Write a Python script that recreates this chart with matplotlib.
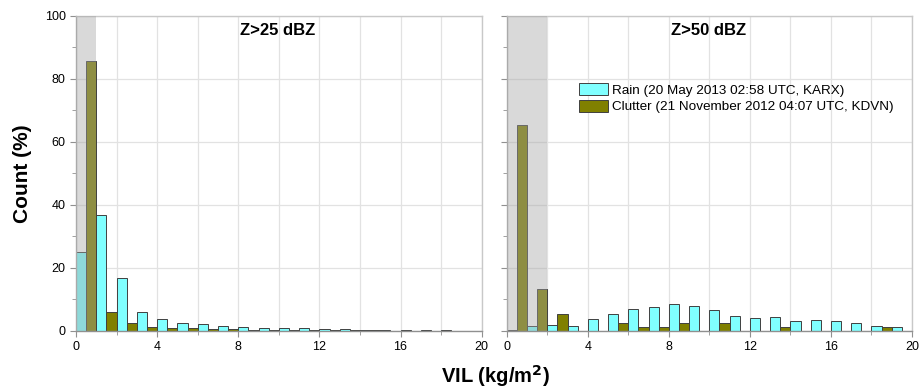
import numpy as np
import matplotlib
matplotlib.use("Agg")
import matplotlib.pyplot as plt
from matplotlib.ticker import MultipleLocator

plt.rcParams['font.family'] = ['Liberation Sans', 'DejaVu Sans']

# bins of VIL (kg/m^2), width 1
bin_left = np.arange(0, 20)

rain_25 = [25.0, 36.7, 16.7, 5.9, 3.7, 2.6, 2.1, 1.6, 1.3, 1.05,
           0.95, 0.8, 0.7, 0.6, 0.4, 0.3, 0.2, 0.15, 0.15, 0.1]
clutter_25 = [85.7, 6.1, 2.6, 1.4, 1.05, 0.85, 0.6, 0.5, 0.4, 0.3,
              0.3, 0.2, 0.2, 0.2, 0.15, 0.0, 0.1, 0.1, 0.1, 0.1]

rain_50 = [0.2, 1.6, 1.8, 1.6, 3.7, 5.5, 7.0, 7.5, 8.5, 7.9,
           6.7, 4.9, 4.2, 4.4, 3.2, 3.4, 3.3, 2.4, 1.7, 1.1]
clutter_50 = [65.3, 13.3, 5.4, 0.0, 0.0, 2.6, 1.3, 1.3, 2.6, 0.0,
              2.6, 0.0, 0.0, 1.3, 0.0, 0.0, 0.0, 0.0, 1.4, 0.0]

titles = ["Z>25 dBZ", "Z>50 dBZ"]
shade_end = [1, 2]
rain_label = "Rain (20 May 2013 02:58 UTC, KARX)"
clutter_label = "Clutter (21 November 2012 04:07 UTC, KDVN)"

rain_color = "#80ffff"
clutter_color = "#808000"
edge_color = "#404040"

fig = plt.figure(figsize=(9.21, 3.88), dpi=100)
ax1 = fig.add_axes([0.0825, 0.147, 0.4405, 0.8126])
ax2 = fig.add_axes([0.5502, 0.147, 0.4400, 0.8126])

for ax, rain, clut, title, se in zip([ax1, ax2], [rain_25, rain_50],
                                     [clutter_25, clutter_50], titles, shade_end):
    ax.bar(bin_left, rain, width=0.5, align='edge', color=rain_color,
           edgecolor=edge_color, linewidth=0.7, zorder=2, label=rain_label)
    ax.bar(bin_left + 0.5, clut, width=0.5, align='edge', color=clutter_color,
           edgecolor=edge_color, linewidth=0.7, zorder=2, label=clutter_label)
    ax.axvspan(0, se, color=(0.64, 0.64, 0.64), alpha=0.41, lw=0, zorder=3)
    ax.set_xlim(0, 20)
    ax.set_ylim(0, 100)
    ax.xaxis.set_major_locator(MultipleLocator(4))
    ax.xaxis.set_minor_locator(MultipleLocator(2))
    ax.yaxis.set_major_locator(MultipleLocator(20))
    ax.yaxis.set_minor_locator(MultipleLocator(10))
    ax.grid(True, which='major', axis='y', color='#e2e2e2', lw=0.9, zorder=0)
    ax.grid(True, which='minor', axis='x', color='#e2e2e2', lw=0.9, zorder=0)
    ax.grid(True, which='major', axis='x', color='#e2e2e2', lw=0.9, zorder=0)
    ax.set_axisbelow(True)
    for s in ax.spines.values():
        s.set_color('#c8c8c8')
        s.set_linewidth(1.0)
    ax.spines['bottom'].set_color('#909090')
    ax.spines['left'].set_color('#b0b0b0')
    ax.tick_params(which='both', direction='out', colors='#909090',
                   labelcolor='black', labelsize=9, top=False, right=False)
    ax.tick_params(which='major', length=4)
    ax.tick_params(which='minor', length=3)
    ax.text(0.498, 0.952, title, transform=ax.transAxes, ha='center', va='center',
            fontsize=12, fontweight='bold', zorder=5)

ax2.tick_params(axis='y', labelleft=False)
ax1.set_ylabel("Count (%)", fontsize=15, fontweight='bold', labelpad=9)

leg = ax2.legend(loc='upper left', bbox_to_anchor=(0.178, 0.787), frameon=False,
                 fontsize=9.7, handlelength=2.15, handleheight=1.04,
                 handletextpad=0.33, labelspacing=0.22, borderaxespad=0,
                 borderpad=0)
for h in leg.legend_handles:
    h.set_edgecolor('#404040')

fig.text(0.538, 0.031, "VIL (kg/m$^\\mathbf{2}$)", ha='center', va='center',
         fontsize=14.5, fontweight='bold')

fig.savefig("out.png", dpi=100)
